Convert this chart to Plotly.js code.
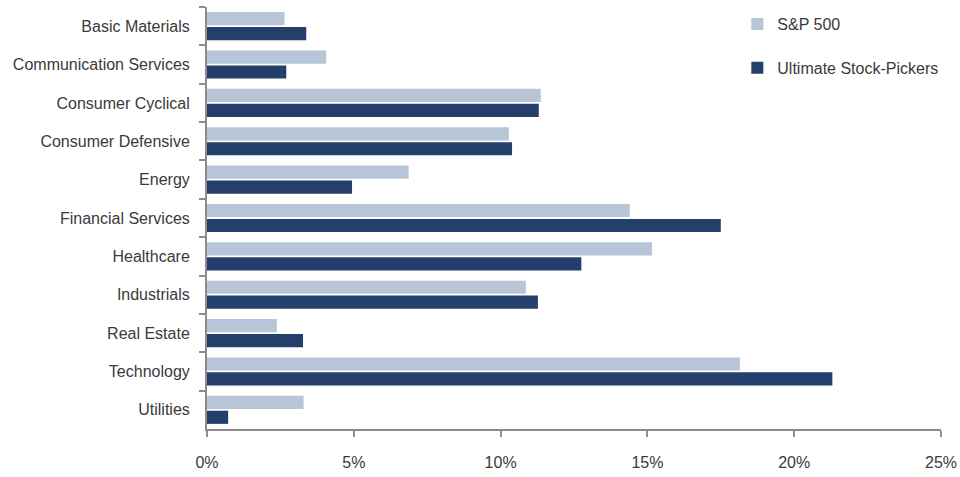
<!DOCTYPE html>
<html><head><meta charset="utf-8">
<script src="https://cdn.plot.ly/plotly-3.0.1.min.js"></script>
<style>html,body{margin:0;padding:0;background:#fff;}#chart{width:960px;height:477px;}</style>
</head><body><div id="chart"></div>
<script>
const sectors = ["Basic Materials","Communication Services","Consumer Cyclical","Consumer Defensive","Energy","Financial Services","Healthcare","Industrials","Real Estate","Technology","Utilities"];
const sp500 = [2.64, 4.06, 11.37, 10.28, 6.87, 14.4, 15.16, 10.86, 2.38, 18.15, 3.29];
const stockPickers = [3.38, 2.7, 11.3, 10.39, 4.94, 17.5, 12.75, 11.27, 3.27, 21.3, 0.72];
const seriesNames = ["S&P 500", "Ultimate Stock-Pickers"];

const font = "'Liberation Sans', Arial, sans-serif";
const traces = [
  {type:"bar", orientation:"h", name:seriesNames[0], y:sectors, x:sp500,
   marker:{color:"#b8c5d7"}, legendgroup:"a", hoverinfo:"x+y"},
  {type:"bar", orientation:"h", name:seriesNames[1], y:sectors, x:stockPickers,
   marker:{color:"#253f6d"}, legendgroup:"b", hoverinfo:"x+y"}
];
const layout = {
  width:960, height:477,
  margin:{l:207, r:19, t:7, b:48},
  paper_bgcolor:"#fff", plot_bgcolor:"#fff",
  barmode:"group", bargap:0.22, bargroupgap:0.12,
  font:{family:font, size:16, color:"#3a3a3a"},
  xaxis:{range:[0,25], dtick:5, tick0:0, ticksuffix:"%", showgrid:false, zeroline:false,
    showline:true, linecolor:"#8c8c8c", linewidth:2, ticks:"outside", ticklen:6, tickwidth:2,
    tickcolor:"#8c8c8c", ticklabelstandoff:12, fixedrange:true},
  yaxis:{type:"category", autorange:"reversed", showgrid:false, zeroline:false,
    showline:true, linecolor:"#8c8c8c", linewidth:2, ticks:"outside", ticklen:6, tickwidth:2,
    tickcolor:"#8c8c8c", tickson:"boundaries", ticklabelstandoff:12, fixedrange:true},
  showlegend:true,
  legend:{x:0.7225, xanchor:"left", y:1.0, yanchor:"top", traceorder:"grouped",
    tracegroupgap:20, font:{family:font, size:16, color:"#3a3a3a"}, bgcolor:"rgba(0,0,0,0)"}
};
Plotly.newPlot("chart", traces, layout, {displayModeBar:false, staticPlot:true});
</script></body></html>
